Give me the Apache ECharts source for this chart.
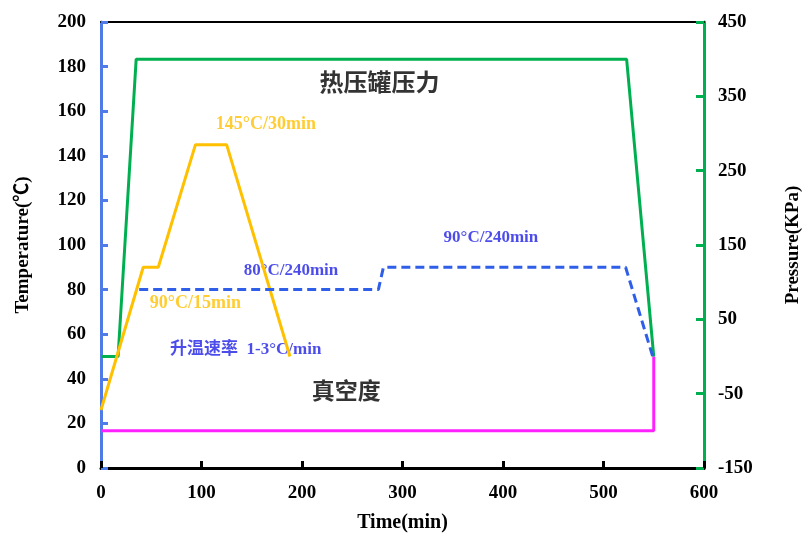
<!DOCTYPE html>
<html><head><meta charset="utf-8">
<script src="https://cdn.jsdelivr.net/npm/echarts@6/dist/echarts.min.js"></script>
<style>html,body{margin:0;padding:0;background:#fff}#c{width:803px;height:536px}</style>
</head><body><div id="c"></div>
<script>
// Temperature (°C) profiles: [time(min), temperature]
const tempCure = [[0,26],[42,90],[57,90],[94,145],[125,145],[188,50]];
const tempCure2 = [[38,80],[276,80],[281,90],[522,90],[549,50]];
// Pressure (KPa): [time(min), pressure]
const autoclavePressure = [[0,0],[17,0],[35,400],[523,400],[550,0]];
const vacuum = [[0,-100],[550,-100],[550,0]];
// Tick settings
const xTicks = {min:0,max:600,step:100};
const tTicks = {min:0,max:200,step:20};
const pTicks = {min:-150,max:450,step:100};
// Annotations: [text, time, temperature]
const notes = [
  ['热压罐压力',277,172],
  ['145°C/30min',164,154],
  ['90°C/240min',388,103.5],
  ['80°C/240min',189,88.5],
  ['90°C/15min',94,74],
  ['升温速率  1-3°C/min',144,53],
  ['真空度',244,33.5]
];
const noteStyle = [
  {color:'#000',size:24},
  {color:'#FFC000',size:18},
  {color:'#1F1FE6',size:17},
  {color:'#1F1FE6',size:17},
  {color:'#FFC000',size:18},
  {color:'#1F1FE6',size:17},
  {color:'#000',size:23}
];
const FF = "'Liberation Serif','Noto Sans CJK SC',serif";
const pOff = -pTicks.min;
const chart = echarts.init(document.getElementById('c'));
chart.setOption({
  animation:false,
  backgroundColor:'#fff',
  grid:{left:101,right:99,top:22,bottom:68,containLabel:false,outerBoundsMode:'none'},
  xAxis:[{
    type:'value',min:xTicks.min,max:xTicks.max,interval:xTicks.step,
    name:'Time(min)',nameLocation:'middle',nameGap:45,
    nameTextStyle:{fontFamily:FF,fontWeight:'bold',fontSize:20,color:'#000'},
    axisLine:{show:true,lineStyle:{color:'#000',width:3}},
    axisTick:{show:true,inside:true,length:7,lineStyle:{color:'#000',width:3}},
    axisLabel:{fontFamily:FF,fontWeight:'bold',fontSize:19,color:'#000',margin:16},
    splitLine:{show:false}
  },{
    type:'value',position:'top',min:xTicks.min,max:xTicks.max,
    axisLine:{show:true,onZero:false,lineStyle:{color:'#000',width:2}},
    axisTick:{show:false},axisLabel:{show:false},splitLine:{show:false}
  }],
  yAxis:[{
    type:'value',position:'left',min:tTicks.min,max:tTicks.max,interval:tTicks.step,
    name:'Temperature(℃)',nameLocation:'middle',nameGap:68,nameRotate:90,
    nameTextStyle:{fontFamily:FF,fontWeight:'bold',fontSize:19,color:'#000'},
    axisLine:{show:true,onZero:false,lineStyle:{color:'#4F7BE8',width:3}},
    axisTick:{show:true,inside:true,length:7,lineStyle:{color:'#4F7BE8',width:3}},
    axisLabel:{fontFamily:FF,fontWeight:'bold',fontSize:19,color:'#000',margin:15},
    splitLine:{show:false}
  },{
    type:'value',position:'right',min:0,max:pTicks.max-pTicks.min,interval:pTicks.step,
    name:'Pressure(KPa)',nameLocation:'middle',nameGap:80,nameRotate:90,
    nameTextStyle:{fontFamily:FF,fontWeight:'bold',fontSize:19,color:'#000'},
    axisLine:{show:true,onZero:false,lineStyle:{color:'#00B050',width:3}},
    axisTick:{show:true,inside:true,length:8,lineStyle:{color:'#00B050',width:3}},
    axisLabel:{fontFamily:FF,fontWeight:'bold',fontSize:19,color:'#000',margin:14,
      formatter:v=>String(v-pOff)},
    splitLine:{show:false}
  }],
  series:[
    {type:'line',yAxisIndex:1,data:vacuum.map(d=>[d[0],d[1]+pOff]),symbol:'none',
      lineStyle:{color:'#FF22FF',width:3}},
    {type:'line',yAxisIndex:1,data:autoclavePressure.map(d=>[d[0],d[1]+pOff]),symbol:'none',
      lineStyle:{color:'#00B050',width:3}},
    {type:'line',yAxisIndex:0,data:tempCure,symbol:'none',
      lineStyle:{color:'#FFC000',width:3}},
    {type:'line',yAxisIndex:0,data:tempCure2,symbol:'none',
      lineStyle:{color:'#2F5FE8',width:3,type:[9,5]}},
    {type:'scatter',yAxisIndex:0,symbolSize:0,silent:true,
      data:notes.map((n,i)=>({value:[n[1],n[2]],
        label:{show:true,position:'inside',formatter:n[0],
          fontFamily:FF,fontWeight:'bold',fontSize:noteStyle[i].size,color:noteStyle[i].color}}))}
  ]
});
</script></body></html>
